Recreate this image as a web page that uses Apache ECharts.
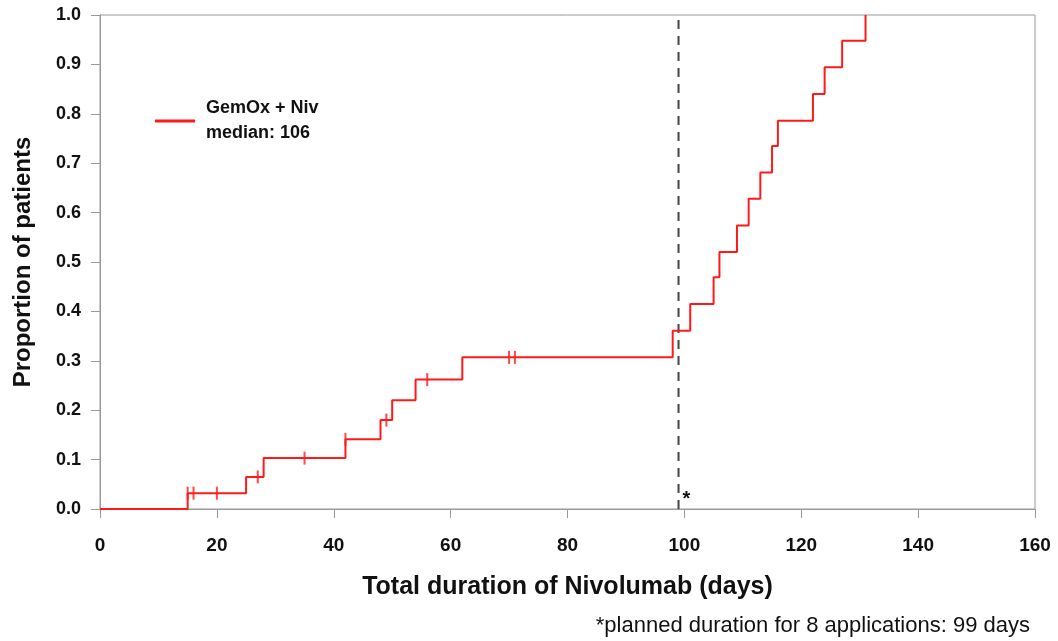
<!DOCTYPE html>
<html>
<head>
<meta charset="utf-8">
<script src="https://cdn.jsdelivr.net/npm/echarts@6/dist/echarts.min.js"></script>
<style>
  html, body { margin: 0; padding: 0; background: #fff; }
  #chart { width: 1058px; height: 641px; }
</style>
</head>
<body>
<div id="chart"></div>
<script>
// step times (days) and cumulative proportion after each step
const stepDays = [0, 15, 25, 28, 42, 48, 50, 54, 62, 98, 101, 105, 106, 109, 111, 113, 115, 116, 122, 124, 127, 131];
const stepVals = [0, 0.032, 0.065, 0.103, 0.141, 0.18, 0.22, 0.262, 0.307, 0.361, 0.415, 0.469, 0.52, 0.574, 0.628, 0.681, 0.735, 0.786, 0.84, 0.894, 0.948, 1.0];
// censored observations
const censorDays = [15, 16, 20, 27, 35, 42, 49, 56, 70, 71];
const censorVals = [0.032, 0.032, 0.032, 0.065, 0.103, 0.141, 0.18, 0.262, 0.307, 0.307];
const plannedDay = 99;
const xTicks = [0, 20, 40, 60, 80, 100, 120, 140, 160];

const red = '#ff1a1a';
const sans = '"Liberation Sans", Arial, sans-serif';

const chart = echarts.init(document.getElementById('chart'));

const option = {
  animation: false,
  grid: { left: 100, right: 23, top: 15, bottom: 132, outerBoundsMode: 'none',
    show: true, borderColor: '#999', borderWidth: 1 },
  legend: {
    data: ['GemOx + Niv'],
    left: 150, top: 91,
    itemWidth: 40, itemHeight: 3, itemGap: 10,
    icon: 'rect',
    formatter: () => 'GemOx + Niv\nmedian: 106',
    textStyle: { fontFamily: sans, fontWeight: 'bold', fontSize: 18, color: '#111', lineHeight: 25, padding: [0, 0, 0, 6] }
  },
  xAxis: {
    type: 'value', min: 0, max: 160, interval: 20,
    name: 'Total duration of Nivolumab (days)',
    nameLocation: 'middle', nameGap: 66,
    nameTextStyle: { fontFamily: sans, fontWeight: 'bold', fontSize: 25, color: '#111' },
    axisLine: { lineStyle: { color: '#999' } },
    axisTick: { show: true, length: 9, lineStyle: { color: '#999' } },
    axisLabel: { fontFamily: sans, fontWeight: 'bold', fontSize: 19, color: '#111', margin: 27,
      formatter: v => xTicks.includes(v) ? String(v) : '' },
    splitLine: { show: false }
  },
  yAxis: {
    type: 'value', min: 0, max: 1, interval: 0.1,
    name: 'Proportion of patients',
    nameLocation: 'middle', nameGap: 65, nameRotate: 90,
    nameTextStyle: { fontFamily: sans, fontWeight: 'bold', fontSize: 24, color: '#111' },
    axisLine: { show: true, lineStyle: { color: '#999' } },
    axisTick: { show: true, length: 9, lineStyle: { color: '#999' } },
    axisLabel: { fontFamily: sans, fontWeight: 'bold', fontSize: 18, color: '#111', margin: 19,
      formatter: v => v.toFixed(1) },
    splitLine: { show: false }
  },
  series: [
    {
      name: 'GemOx + Niv',
      type: 'line',
      step: 'end',
      showSymbol: false,
      data: stepDays.map((d, i) => [d, stepVals[i]]),
      lineStyle: { color: red, width: 2 },
      itemStyle: { color: red },
      z: 3
    },
    {
      name: 'censored',
      type: 'scatter',
      symbol: 'rect',
      symbolSize: [2, 13],
      data: censorDays.map((d, i) => [d, censorVals[i]]),
      itemStyle: { color: red },
      z: 4
    },
    {
      name: 'planned',
      type: 'line',
      showSymbol: false,
      data: [[plannedDay, 0], [plannedDay, 1]],
      lineStyle: { color: '#444', width: 2, type: [9, 7] },
      z: 2
    }
  ]
};
chart.setOption(option);

// asterisk next to the planned-duration marker and the footnote
const starPos = chart.convertToPixel({ gridIndex: 0 }, [plannedDay, 0]);
chart.setOption({
  graphic: [
    { type: 'text', x: starPos[0] + 4, y: starPos[1] - 20,
      style: { text: '*', font: 'bold 20px ' + sans, fill: '#111' } },
    { type: 'text', right: 28, top: 615,
      style: { text: '*planned duration for 8 applications: 99 days', font: '22px ' + sans, fill: '#111' } }
  ]
});
</script>
</body>
</html>
